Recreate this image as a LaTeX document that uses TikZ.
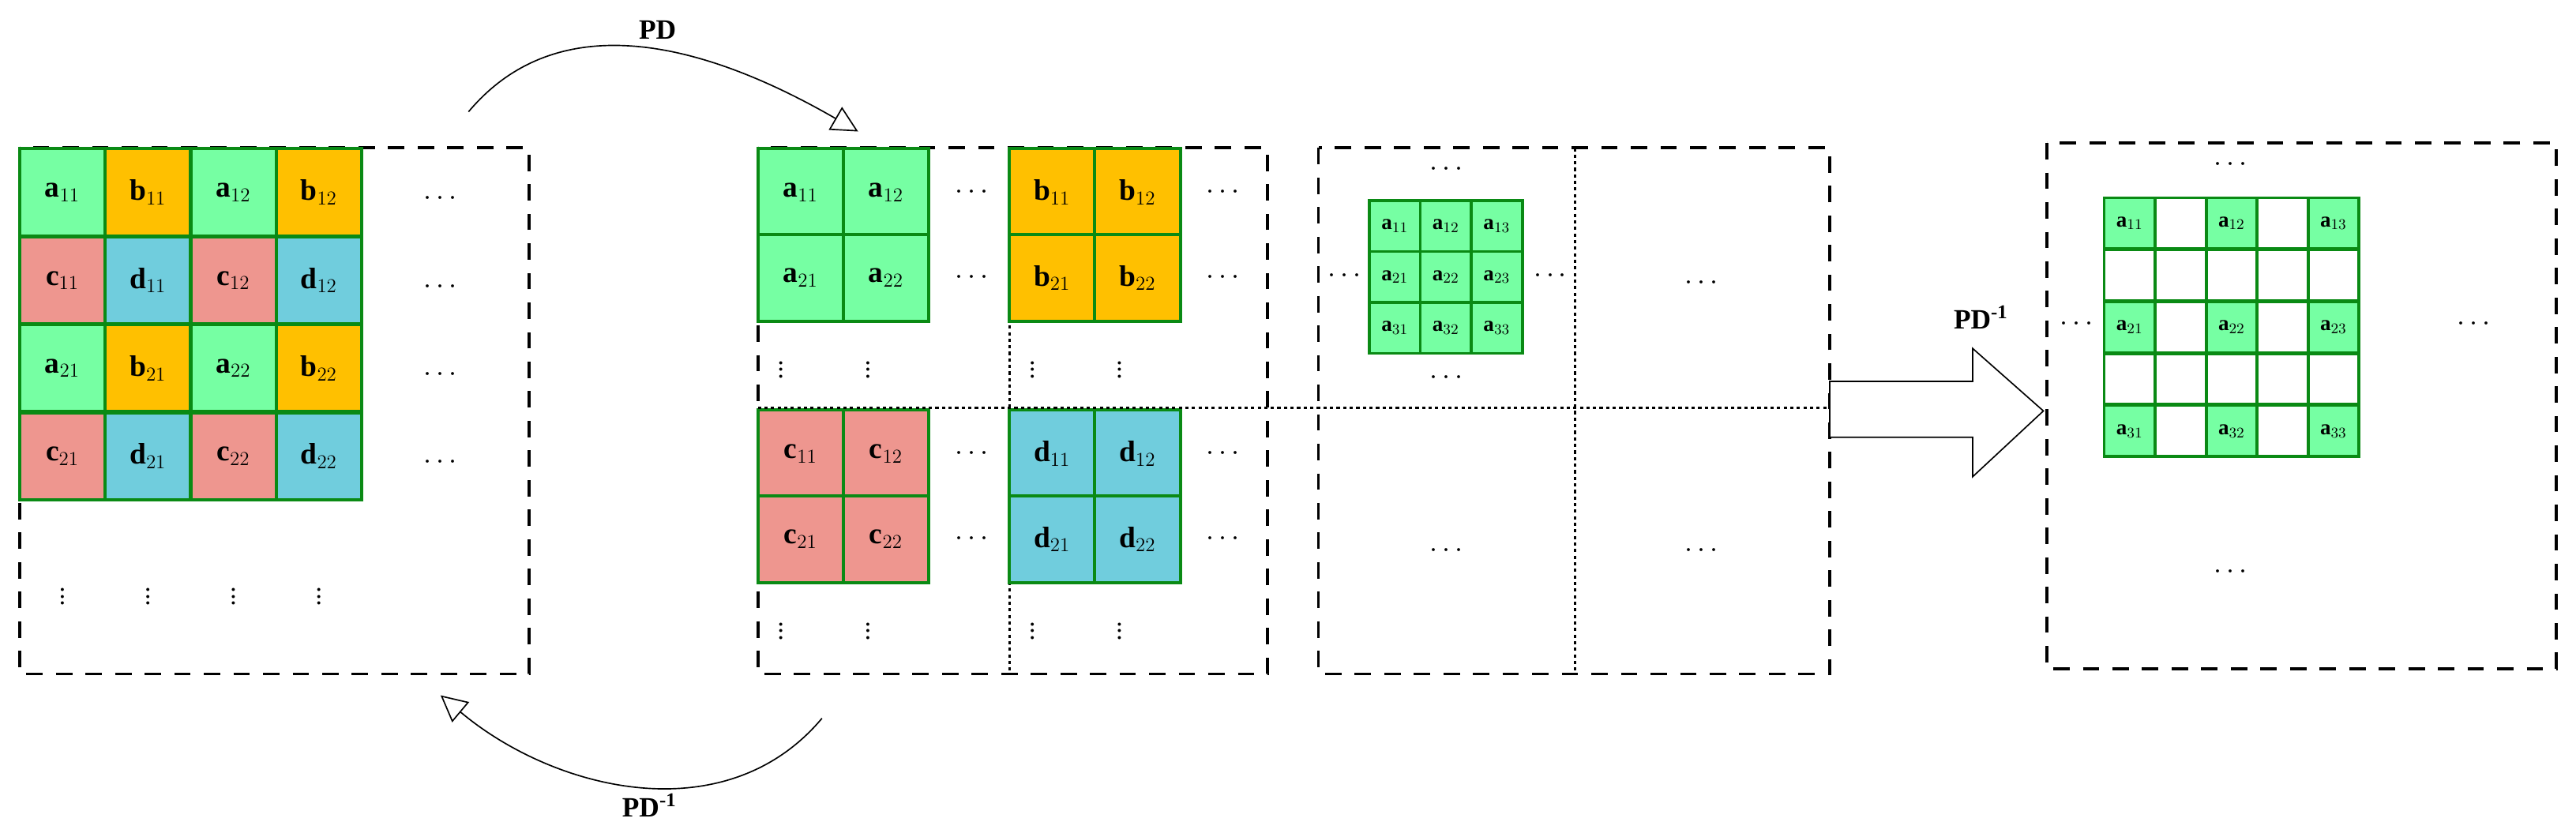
\documentclass[tikz,border=0pt]{standalone}
\usepackage{fontspec}
\setmainfont{Liberation Serif}
\usetikzlibrary{arrows.meta}
\definecolor{cg}{HTML}{76FFA3}
\definecolor{co}{HTML}{FFC000}
\definecolor{cr}{HTML}{EE968F}
\definecolor{cb}{HTML}{70CDDD}
\definecolor{gb}{HTML}{0A8A14}
\def\pone#1#2#3{#1$_{#2#3}$}
\begin{document}
\begin{tikzpicture}[x=1pt,y=-1pt,
  cell/.style={draw=gb,line width=2pt,minimum width=52pt,minimum height=53pt,inner sep=0pt,font=\fontsize{18}{20}\selectfont\bfseries},
  scell/.style={draw=gb,line width=1.8pt,minimum width=31pt,minimum height=31pt,inner sep=0pt,font=\fontsize{13}{14}\selectfont\bfseries},
  dbox/.style={draw,line width=1.8pt,dash pattern=on 10pt off 8pt},
  dline/.style={draw,line width=1.6pt,dash pattern=on 2pt off 2pt},
  dt/.style={inner sep=0pt,font=\fontsize{16}{16}\selectfont},
  lab/.style={font=\fontsize{17}{18}\selectfont\bfseries},
  oarr/.style={-{Triangle[open,length=16pt,width=16pt]},line width=0.8pt}]
\useasboundingbox (0,0) rectangle (1567,509);
% panel 1
\draw[dbox] (12,90) rectangle (322,410);
\foreach \r/\lst in {0/{a11/cg,b11/co,a12/cg,b12/co},1/{c11/cr,d11/cb,c12/cr,d12/cb},2/{a21/cg,b21/co,a22/cg,b22/co},3/{c21/cr,d21/cb,c22/cr,d22/cb}}{
  \foreach \t/\c [count=\i from 0] in \lst {
    \node[cell,fill=\c] (p1-\t) at ({38+52*\i},{117+53.5*\r}) {\expandafter\pone\t};
  }
  \node[dt] (p1h\r) at ({268},{121+53.5*\r}) {$\cdots$};
}
\foreach \i in {0,1,2,3} \node[dt] (p1v\i) at ({38+52*\i},360) {$\vdots$};
% panel 2
\draw[dbox] (461,90) rectangle (771,410);
\draw[dline] (614,90) -- (614,410);
\foreach \bx/\by/\c/\l in {461/91/cg/a,614/91/co/b,461/250/cr/c,614/250/cb/d}{
  \foreach \i in {1,2} \foreach \j in {1,2}
    \node[cell,fill=\c] (p2-\l\j\i) at ({\bx+26+52*(\i-1)},{\by+26+52*(\j-1)}) {\l$_{\j\i}$};
  \node[dt] (p2h\l1) at ({\bx+130},{\by+26}) {$\cdots$};
  \node[dt] (p2h\l2) at ({\bx+130},{\by+78}) {$\cdots$};
  \node[dt] (p2v\l1) at ({\bx+14},{\by+131}) {$\vdots$};
  \node[dt] (p2v\l2) at ({\bx+67},{\by+131}) {$\vdots$};
}
% panel 3
\draw[dbox] (802,90) rectangle (1113,410);
\draw[dline] (958,90) -- (958,410);
\draw[dline] (461,248) -- (1113,248);
\foreach \j in {1,2,3} \foreach \i in {1,2,3}
  \node[scell,fill=cg] (p3-\j\i) at ({833+15.5+31*(\i-1)},{122+15.5+31*(\j-1)}) {a$_{\j\i}$};
\node[dt] (p3t) at (880,103) {$\cdots$};
\node[dt] (p3l) at (818,168) {$\cdots$};
\node[dt] (p3r) at (943,168) {$\cdots$};
\node[dt] (p3b) at (880,230) {$\cdots$};
\node[dt] (p3tr) at (1035,172) {$\cdots$};
\node[dt] (p3bl) at (880,335) {$\cdots$};
\node[dt] (p3br) at (1035,335) {$\cdots$};
% big arrow
\draw[line width=0.8pt,fill=white] (1113,232) -- (1200,232) -- (1200,212) -- (1243,250) -- (1200,290) -- (1200,266) -- (1113,266) -- cycle;
\node[lab] (pdinv2) at (1205,193) {PD\textsuperscript{-1}};
% panel 4
\draw[dbox] (1245,87) rectangle (1555,407);
\foreach \j in {1,...,5} \foreach \i in {1,...,5}{
  \pgfmathparse{int(mod(\i,2)*mod(\j,2))}
  \ifnum\pgfmathresult=1
    \pgfmathsetmacro\jj{int((\j+1)/2)}\pgfmathsetmacro\ii{int((\i+1)/2)}
    \node[scell,fill=cg] (p4-\j\i) at ({1280+15.5+31*(\i-1)},{120+15.8+31.6*(\j-1)}) {a$_{\jj\ii}$};
  \else
    \node[scell,fill=white] (p4-\j\i) at ({1280+15.5+31*(\i-1)},{120+15.8+31.6*(\j-1)}) {};
  \fi}
\node[dt] (p4t) at (1357,100) {$\cdots$};
\node[dt] (p4l) at (1263,197) {$\cdots$};
\node[dt] (p4r) at (1505,197) {$\cdots$};
\node[dt] (p4b) at (1357,348) {$\cdots$};
% curved arrows
\coordinate (u1) at (285,68);
\coordinate (u2) at (522,80);
\draw[oarr] (u1) to[out=50,in=150] (u2);
\node[lab] (pd) at (400,18) {PD};
\coordinate (l1) at (500,437);
\coordinate (l2) at (268,423);
\draw[oarr] (l1) to[out=230,in=320] (l2);
\node[lab] (pdinv) at (395,490) {PD\textsuperscript{-1}};
\end{tikzpicture}
\end{document}
